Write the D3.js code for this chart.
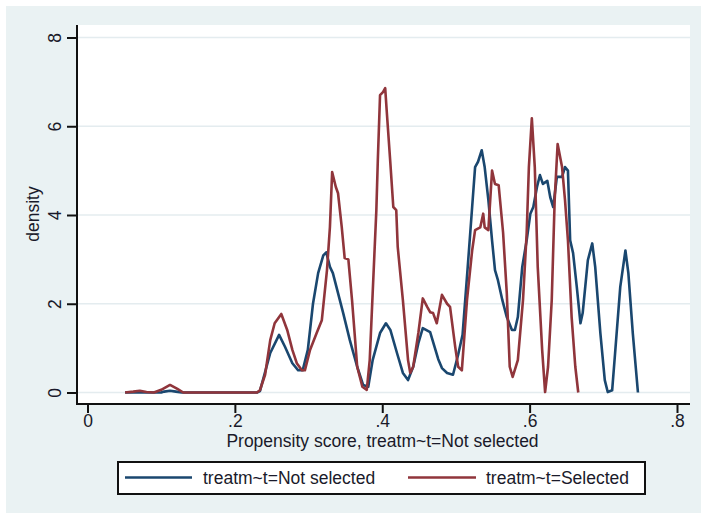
<!DOCTYPE html>
<html>
<head>
<meta charset="utf-8">
<script src="https://cdn.jsdelivr.net/npm/d3@7"></script>
<style>
  html, body { margin: 0; padding: 0; background: #ffffff; }
  svg { display: block; }
  text { font-family: "Liberation Sans", Arial, sans-serif; fill: #1a1a2a; }
</style>
</head>
<body>
<svg id="chart" width="701" height="514"></svg>
<script>
// Kernel density of the propensity score, by treatment group
const notSelectedX = [0.051, 0.090, 0.100, 0.104, 0.112, 0.120, 0.128, 0.230, 0.234, 0.248, 0.260, 0.268, 0.278, 0.286, 0.292, 0.299, 0.306, 0.313, 0.320, 0.324, 0.329, 0.333, 0.340, 0.347, 0.356, 0.366, 0.374, 0.381, 0.387, 0.397, 0.405, 0.411, 0.420, 0.428, 0.435, 0.442, 0.449, 0.455, 0.465, 0.471, 0.476, 0.481, 0.488, 0.496, 0.503, 0.509, 0.516, 0.522, 0.526, 0.530, 0.535, 0.539, 0.544, 0.549, 0.553, 0.557, 0.563, 0.569, 0.576, 0.580, 0.584, 0.590, 0.596, 0.601, 0.605, 0.610, 0.614, 0.618, 0.624, 0.628, 0.632, 0.637, 0.644, 0.648, 0.652, 0.655, 0.659, 0.664, 0.669, 0.672, 0.679, 0.685, 0.689, 0.696, 0.702, 0.706, 0.712, 0.716, 0.723, 0.730, 0.734, 0.740, 0.747];
const notSelectedY = [0, 0, 0, 0.02, 0.04, 0.02, 0, 0, 0.03, 0.89, 1.30, 1.03, 0.66, 0.50, 0.50, 0.96, 2.00, 2.69, 3.09, 3.16, 2.83, 2.69, 2.24, 1.79, 1.18, 0.58, 0.17, 0.13, 0.73, 1.34, 1.56, 1.41, 0.89, 0.44, 0.28, 0.58, 1.11, 1.45, 1.36, 1.03, 0.75, 0.55, 0.44, 0.40, 0.85, 1.30, 2.83, 4.18, 5.08, 5.20, 5.46, 5.08, 4.34, 3.43, 2.76, 2.53, 2.08, 1.70, 1.41, 1.41, 1.70, 2.83, 3.43, 4.03, 4.18, 4.63, 4.90, 4.70, 4.77, 4.40, 4.18, 4.86, 4.86, 5.08, 5.00, 3.43, 3.14, 2.38, 1.56, 1.79, 2.98, 3.36, 2.83, 1.34, 0.28, 0.01, 0.05, 0.89, 2.38, 3.20, 2.69, 1.34, 0];

const selectedX = [0.051, 0.062, 0.071, 0.080, 0.090, 0.100, 0.112, 0.122, 0.130, 0.230, 0.234, 0.241, 0.248, 0.254, 0.263, 0.271, 0.278, 0.284, 0.291, 0.295, 0.302, 0.311, 0.318, 0.325, 0.329, 0.332, 0.337, 0.340, 0.345, 0.349, 0.354, 0.359, 0.366, 0.373, 0.379, 0.383, 0.387, 0.392, 0.394, 0.397, 0.401, 0.404, 0.406, 0.411, 0.415, 0.419, 0.421, 0.428, 0.435, 0.438, 0.442, 0.449, 0.455, 0.461, 0.465, 0.469, 0.474, 0.481, 0.488, 0.492, 0.499, 0.503, 0.508, 0.515, 0.522, 0.526, 0.533, 0.537, 0.539, 0.544, 0.549, 0.553, 0.558, 0.564, 0.569, 0.573, 0.577, 0.584, 0.591, 0.596, 0.599, 0.603, 0.607, 0.611, 0.617, 0.621, 0.625, 0.630, 0.634, 0.638, 0.644, 0.648, 0.652, 0.657, 0.662, 0.666];
const selectedY = [0, 0.02, 0.04, 0.01, 0, 0.06, 0.17, 0.08, 0, 0, 0.05, 0.40, 1.18, 1.56, 1.77, 1.41, 0.96, 0.66, 0.50, 0.50, 0.96, 1.34, 1.63, 2.76, 3.73, 4.97, 4.63, 4.49, 3.73, 3.03, 3.00, 2.08, 0.58, 0.13, 0.06, 0.73, 2.24, 4.11, 5.24, 6.70, 6.77, 6.86, 6.36, 5.17, 4.18, 4.11, 3.28, 2.08, 0.73, 0.44, 0.58, 1.34, 2.12, 1.93, 1.81, 1.79, 1.56, 2.20, 2.00, 1.93, 1.03, 0.58, 0.50, 2.08, 3.20, 3.66, 3.72, 4.03, 3.72, 3.66, 5.00, 4.70, 4.67, 3.60, 2.24, 0.58, 0.35, 0.73, 2.08, 3.60, 5.08, 6.18, 5.08, 2.83, 0.96, 0.01, 0.58, 2.08, 4.34, 5.60, 5.08, 4.34, 3.43, 1.70, 0.58, 0];

const xTicks = [0, 0.2, 0.4, 0.6, 0.8];
const xTickLabels = ["0", ".2", ".4", ".6", ".8"];
const yTicks = [0, 2, 4, 6, 8];
const yTickLabels = ["0", "2", "4", "6", "8"];

const seriesNames = ["treatm~t=Not selected", "treatm~t=Selected"];
const seriesColors = ["#1a476f", "#90353b"];
const xTitle = "Propensity score, treatm~t=Not selected";
const yTitle = "density";

const svg = d3.select("#chart");
const fontSize = "17.5px";

// graph region and plot region
svg.append("rect").attr("x", 6).attr("y", 6).attr("width", 695).attr("height", 507).attr("fill", "#eaf2f3");
const plot = { left: 77, right: 690, top: 25, bottom: 404 };
svg.append("rect")
  .attr("x", plot.left).attr("y", plot.top)
  .attr("width", plot.right - plot.left).attr("height", plot.bottom - plot.top)
  .attr("fill", "#ffffff");

const x = d3.scaleLinear().domain([0, 0.8]).range([87.5, 677]);
const y = d3.scaleLinear().domain([0, 8]).range([392.5, 37.5]);

// horizontal grid lines
svg.append("g").selectAll("line").data(yTicks).join("line")
  .attr("x1", plot.left + 1).attr("x2", plot.right)
  .attr("y1", d => y(d)).attr("y2", d => y(d))
  .attr("stroke", "#e4ecef").attr("stroke-width", 1.6);

// density curves
const line = d3.line().x(d => x(d[0])).y(d => y(d[1]));
const series = [
  d3.zip(notSelectedX, notSelectedY),
  d3.zip(selectedX, selectedY)
];
series.forEach((pts, i) => {
  svg.append("path").datum(pts)
    .attr("d", line)
    .attr("fill", "none")
    .attr("stroke", seriesColors[i])
    .attr("stroke-width", 2.6)
    .attr("stroke-linejoin", "round");
});

// y axis
const yAxis = d3.axisLeft(y).tickValues(yTicks).tickSize(10).tickPadding(0)
  .tickFormat((d, i) => yTickLabels[i]);
const gy = svg.append("g").attr("transform", `translate(${plot.left},0)`).call(yAxis);
gy.select(".domain").remove();
gy.selectAll(".tick line").attr("stroke", "#111").attr("stroke-width", 2);
gy.selectAll(".tick text")
  .attr("x", 0).attr("dy", null).attr("y", 0)
  .attr("transform", "translate(-16,0) rotate(-90)")
  .attr("text-anchor", "middle")
  .style("font-size", fontSize).style("fill", "#1a1a2a")
  .style("font-family", "'Liberation Sans', Arial, sans-serif");
svg.append("line")
  .attr("x1", plot.left).attr("x2", plot.left)
  .attr("y1", plot.top).attr("y2", plot.bottom + 1)
  .attr("stroke", "#111").attr("stroke-width", 2);

// x axis
const xAxis = d3.axisBottom(x).tickValues(xTicks).tickSize(9).tickPadding(0)
  .tickFormat((d, i) => xTickLabels[i]);
const gx = svg.append("g").attr("transform", `translate(0,${plot.bottom})`).call(xAxis);
gx.select(".domain").remove();
gx.selectAll(".tick line").attr("stroke", "#111").attr("stroke-width", 2);
gx.selectAll(".tick text")
  .attr("y", 23).attr("dy", null)
  .style("font-size", fontSize).style("fill", "#1a1a2a")
  .style("font-family", "'Liberation Sans', Arial, sans-serif");
svg.append("line")
  .attr("x1", plot.left - 1).attr("x2", plot.right)
  .attr("y1", plot.bottom).attr("y2", plot.bottom)
  .attr("stroke", "#111").attr("stroke-width", 2);

// axis titles
svg.append("text")
  .attr("x", (plot.left + plot.right) / 2 - 1).attr("y", 447)
  .attr("text-anchor", "middle").style("font-size", fontSize)
  .text(xTitle);
svg.append("text")
  .attr("transform", "translate(39,214) rotate(-90)")
  .attr("text-anchor", "middle").style("font-size", fontSize)
  .text(yTitle);

// legend
const legend = svg.append("g");
legend.append("rect")
  .attr("x", 118).attr("y", 462).attr("width", 527).attr("height", 32)
  .attr("fill", "#ffffff").attr("stroke", "#111").attr("stroke-width", 2);
const legendItems = [
  { x0: 125, x1: 192, tx: 203 },
  { x0: 408, x1: 476, tx: 486 }
];
legendItems.forEach((it, i) => {
  legend.append("line")
    .attr("x1", it.x0).attr("x2", it.x1).attr("y1", 477.5).attr("y2", 477.5)
    .attr("stroke", seriesColors[i]).attr("stroke-width", 2.4);
  legend.append("text")
    .attr("x", it.tx).attr("y", 484).style("font-size", fontSize)
    .text(seriesNames[i]);
});
</script>
</body>
</html>
